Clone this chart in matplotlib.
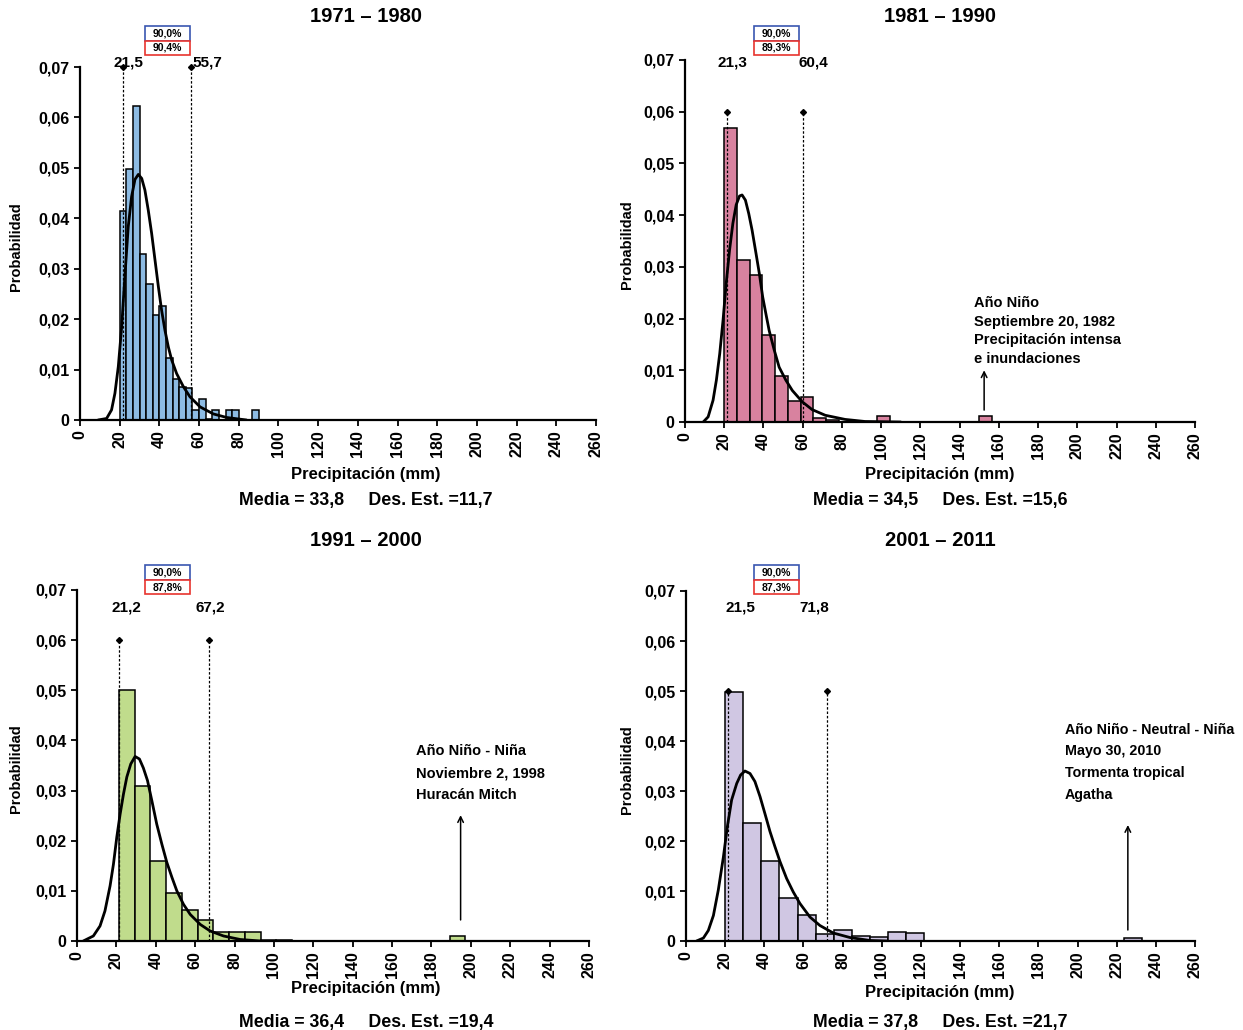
import matplotlib
matplotlib.use("Agg")
import matplotlib.pyplot as plt
from matplotlib.patches import Rectangle

plt.rcParams['font.family'] = ['Liberation Sans', 'DejaVu Sans']

# ---------------- data ----------------
titles = ["1971 – 1980", "1981 – 1990", "1991 – 2000", "2001 – 2011"]
media = ["33,8", "34,5", "36,4", "37,8"]
desvest = ["11,7", "15,6", "19,4", "21,7"]
pct_teo = ["90,0%", "90,0%", "90,0%", "90,0%"]
pct_obs = ["90,4%", "89,3%", "87,8%", "87,3%"]
lim_inf = [21.5, 21.3, 21.2, 21.5]
lim_sup = [55.7, 60.4, 67.2, 71.8]
lim_inf_lbl = ["21,5", "21,3", "21,2", "21,5"]
lim_sup_lbl = ["55,7", "60,4", "67,2", "71,8"]

bin_start = [20.0, 20.0, 21.2, 20.0]
bin_width = [10 / 3, 6.5, 8.0, 9.25]

h1 = [0.0415, 0.0497, 0.0623, 0.0330, 0.0269, 0.0208, 0.0227, 0.0123, 0.0081, 0.0065,
      0.0063, 0.0020, 0.0041, 0.0002, 0.0020, 0.0, 0.0020, 0.0020, 0.0, 0.0, 0.0020]
h2 = [0.0569, 0.0314, 0.0284, 0.0168, 0.0088, 0.0040, 0.0048, 0.0008, 0.0003, 0.0, 0.0,
      0.0, 0.0011, 0.0, 0.0, 0.0, 0.0, 0.0, 0.0, 0.0, 0.0011]
h3 = [0.0501, 0.0310, 0.0159, 0.0095, 0.0062, 0.0041, 0.0018, 0.0018, 0.0018, 0.0002,
      0.0002, 0.0, 0.0, 0.0, 0.0, 0.0, 0.0, 0.0, 0.0, 0.0, 0.0, 0.0010]
h4 = [0.0498, 0.0237, 0.0160, 0.0087, 0.0052, 0.0015, 0.0023, 0.0011, 0.0009, 0.0018,
      0.0017, 0.0, 0.0, 0.0, 0.0, 0.0, 0.0, 0.0, 0.0, 0.0, 0.0, 0.0, 0.0007]
heights = [h1, h2, h3, h4]

c1_x = [9.1, 13.4, 15.9, 17.6, 19.3, 21.0, 22.7, 24.3, 26.0, 27.7, 29.4, 31.1, 32.7, 34.4,
        36.1, 37.8, 39.5, 41.1, 42.8, 44.5, 46.2, 48.7, 52.1, 55.4, 60.5, 67.2, 73.9, 83.9]
c1_y = [0, 0.0003, 0.0020, 0.0053, 0.0106, 0.0185, 0.0290, 0.0383, 0.0443, 0.0477, 0.0487,
        0.0479, 0.0456, 0.0416, 0.0370, 0.0317, 0.0264, 0.0218, 0.0178, 0.0145, 0.0119,
        0.0092, 0.0066, 0.0046, 0.0026, 0.0012, 0.0005, 0]
c2_x = [9.3, 11.8, 14.3, 16.0, 17.7, 19.4, 21.0, 22.7, 24.4, 26.1, 27.8, 29.1, 30.8, 32.5,
        34.2, 36.2, 37.9, 39.6, 41.2, 42.9, 45.5, 48.0, 51.4, 54.7, 59.8, 64.8, 71.5, 81.6,
        91.7, 110]
c2_y = [0, 0.0010, 0.0042, 0.0081, 0.0132, 0.0197, 0.0268, 0.0332, 0.0384, 0.0420, 0.0437,
        0.0439, 0.0429, 0.0403, 0.0371, 0.0326, 0.0287, 0.0242, 0.0210, 0.0177, 0.0139,
        0.0106, 0.0081, 0.0061, 0.0039, 0.0024, 0.0013, 0.0005, 0.0001, 0]
c3_x = [3.2, 8.3, 11.7, 14.2, 16.8, 18.5, 20.2, 21.9, 23.6, 25.3, 27.3, 29.5, 31.7, 33.7,
        35.8, 38.0, 40.5, 43.1, 45.6, 48.2, 50.7, 54.1, 57.5, 62.6, 67.6, 74.4, 82.9, 93.1]
c3_y = [0, 0.0010, 0.0030, 0.0060, 0.0110, 0.0153, 0.0207, 0.0253, 0.0293, 0.0327, 0.0353,
        0.0368, 0.0363, 0.0345, 0.0320, 0.0280, 0.0233, 0.0193, 0.0157, 0.0127, 0.0100,
        0.0073, 0.0053, 0.0033, 0.0020, 0.0010, 0.0003, 0]
c4_x = [5.4, 8.9, 11.4, 14.0, 16.5, 19.1, 21.1, 23.3, 25.9, 27.9, 30.1, 32.7, 35.2, 37.8,
        40.3, 42.9, 45.4, 48.0, 51.4, 54.8, 58.2, 63.3, 68.4, 75.2, 83.7, 94.0, 102.5]
c4_y = [0, 0.0006, 0.0021, 0.0051, 0.0102, 0.0168, 0.0228, 0.0282, 0.0315, 0.0332, 0.0340,
        0.0335, 0.0319, 0.0289, 0.0255, 0.0219, 0.0189, 0.0159, 0.0125, 0.0098, 0.0075,
        0.0048, 0.0031, 0.0016, 0.0007, 0.0001, 0]
curves = [(c1_x, c1_y), (c2_x, c2_y), (c3_x, c3_y), (c4_x, c4_y)]

notes = [None,
         "Año Niño\nSeptiembre 20, 1982\nPrecipitación intensa\ne inundaciones",
         "Año Niño - Niña\nNoviembre 2, 1998\nHuracán Mitch",
         "Año Niño - Neutral - Niña\nMayo 30, 2010\nTormenta tropical\nAgatha"]

x_ticks = list(range(0, 261, 20))
y_ticks = [0, 0.01, 0.02, 0.03, 0.04, 0.05, 0.06, 0.07]
y_tick_lbl = ["0", "0,01", "0,02", "0,03", "0,04", "0,05", "0,06", "0,07"]

# ---------------- layout / style ----------------
W, H = 1243, 1030
colors = ["#8dbbe3", "#d8829f", "#c0dc8c", "#d0c7e3"]
# axes rects in pixels: left, top, right, bottom
ax_px = [(80, 67, 596, 420), (685, 60, 1195, 422), (77, 590, 589, 941), (686, 591, 1195, 941)]
ylab_px = [23, 634, 23, 634]
title_py = [17, 17, 540, 540]
xlab_py = [475, 475, 989, 993]
media_py = [501, 501, 1022, 1022]
col_cx = [366, 940, 366, 940]
line_top = [0.07, 0.06, 0.06, 0.05]
lbl_y = [0.0708, 0.0696, 0.0665, 0.0667]
lbl_inf_dx = [3, 3, 4, 6.5]
lbl_sup_dx = [8.5, 5, 0.5, -6.5]
box_px = [(145, 26), (754, 26), (145, 565), (754, 565)]
note_xy = [None, (147.5, 0.0244), (171.9, 0.0392), (193.6, 0.0437)]
note_ls = [None, 1.44, 1.72, 1.72]
note_fs = [None, 10.5, 10.5, 10.3]
arrow_x = [None, 152.5, 194.8, 225.7]
arrow_y = [None, (0.0023, 0.0100), (0.0042, 0.0251), (0.0022, 0.0232)]


def fx(px):
    return px / W


def fy(py):
    return 1 - py / H


fig = plt.figure(figsize=(W / 100, H / 100), dpi=100)

for i in range(4):
    l, t, r, b = ax_px[i]
    ax = fig.add_axes([fx(l), fy(b), (r - l) / W, (b - t) / H])
    n = len(heights[i])
    lefts = [bin_start[i] + k * bin_width[i] for k in range(n)]
    ax.bar(lefts, heights[i], width=bin_width[i], align='edge', color=colors[i],
           edgecolor='black', linewidth=1.1, zorder=2)
    cx, cy = curves[i]
    ax.plot(cx, cy, color='black', lw=2.0, zorder=4, solid_capstyle='round',
            solid_joinstyle='round')
    for xv in (lim_inf[i], lim_sup[i]):
        ax.plot([xv, xv], [0, line_top[i]], color='black', lw=0.9, ls=(0, (2, 1.5)),
                zorder=5, clip_on=False)
        ax.plot([xv], [line_top[i]], marker='D', ms=3, color='black', zorder=6, clip_on=False)
    ax.text(lim_inf[i] + lbl_inf_dx[i], lbl_y[i], lim_inf_lbl[i], ha='center', va='center',
            fontsize=11, fontweight='bold')
    ax.text(lim_sup[i] + lbl_sup_dx[i], lbl_y[i], lim_sup_lbl[i], ha='center', va='center',
            fontsize=11, fontweight='bold')

    ax.set_xlim(0, 260)
    ax.set_ylim(0, 0.07)
    ax.set_xticks(x_ticks)
    ax.set_xticklabels([str(v) for v in x_ticks], rotation=90, fontsize=11.5, fontweight='bold')
    ax.set_yticks(y_ticks)
    ax.set_yticklabels(y_tick_lbl, fontsize=11.5, fontweight='bold')
    ax.tick_params(axis='both', direction='out', length=4.5, width=1.3, pad=3)
    for s in ('top', 'right'):
        ax.spines[s].set_visible(False)
    for s in ('left', 'bottom'):
        ax.spines[s].set_linewidth(1.6)
    ax.set_ylabel("Probabilidad", fontsize=10.5, fontweight='bold')
    ax.yaxis.set_label_coords((ylab_px[i] - l) / (r - l), 0.49)

    fig.text(fx(col_cx[i]), fy(title_py[i]), titles[i],
             ha='center', va='center', fontsize=14.5, fontweight='bold')
    fig.text(fx(col_cx[i]), fy(xlab_py[i]), "Precipitación (mm)",
             ha='center', va='center', fontsize=12, fontweight='bold')
    fig.text(fx(col_cx[i]), fy(media_py[i]),
             "Media = " + media[i] + "     Des. Est. =" + desvest[i],
             ha='center', va='center', fontsize=12.8, fontweight='bold')

    # percentage boxes
    bx, by = box_px[i]
    for k, (txt, ec) in enumerate([(pct_teo[i], "#3a56b0"), (pct_obs[i], "#e8332e")]):
        y0 = by + k * 14.5
        fig.add_artist(Rectangle((fx(bx), fy(y0 + 14.5)), 45 / W, 14.5 / H,
                                 transform=fig.transFigure, facecolor='white',
                                 edgecolor=ec, lw=1.2))
        fig.text(fx(bx + 22.5), fy(y0 + 7.5), txt, ha='center', va='center',
                 fontsize=7.5, fontweight='bold')

    if notes[i]:
        ax.text(note_xy[i][0], note_xy[i][1], notes[i], ha='left', va='top', fontsize=note_fs[i],
                fontweight='bold', linespacing=note_ls[i])
        ax.annotate("", xy=(arrow_x[i], arrow_y[i][1]), xytext=(arrow_x[i], arrow_y[i][0]),
                    arrowprops=dict(arrowstyle='->', lw=1.1, color='black',
                                    shrinkA=0, shrinkB=0))

fig.savefig("out.png", dpi=100)
